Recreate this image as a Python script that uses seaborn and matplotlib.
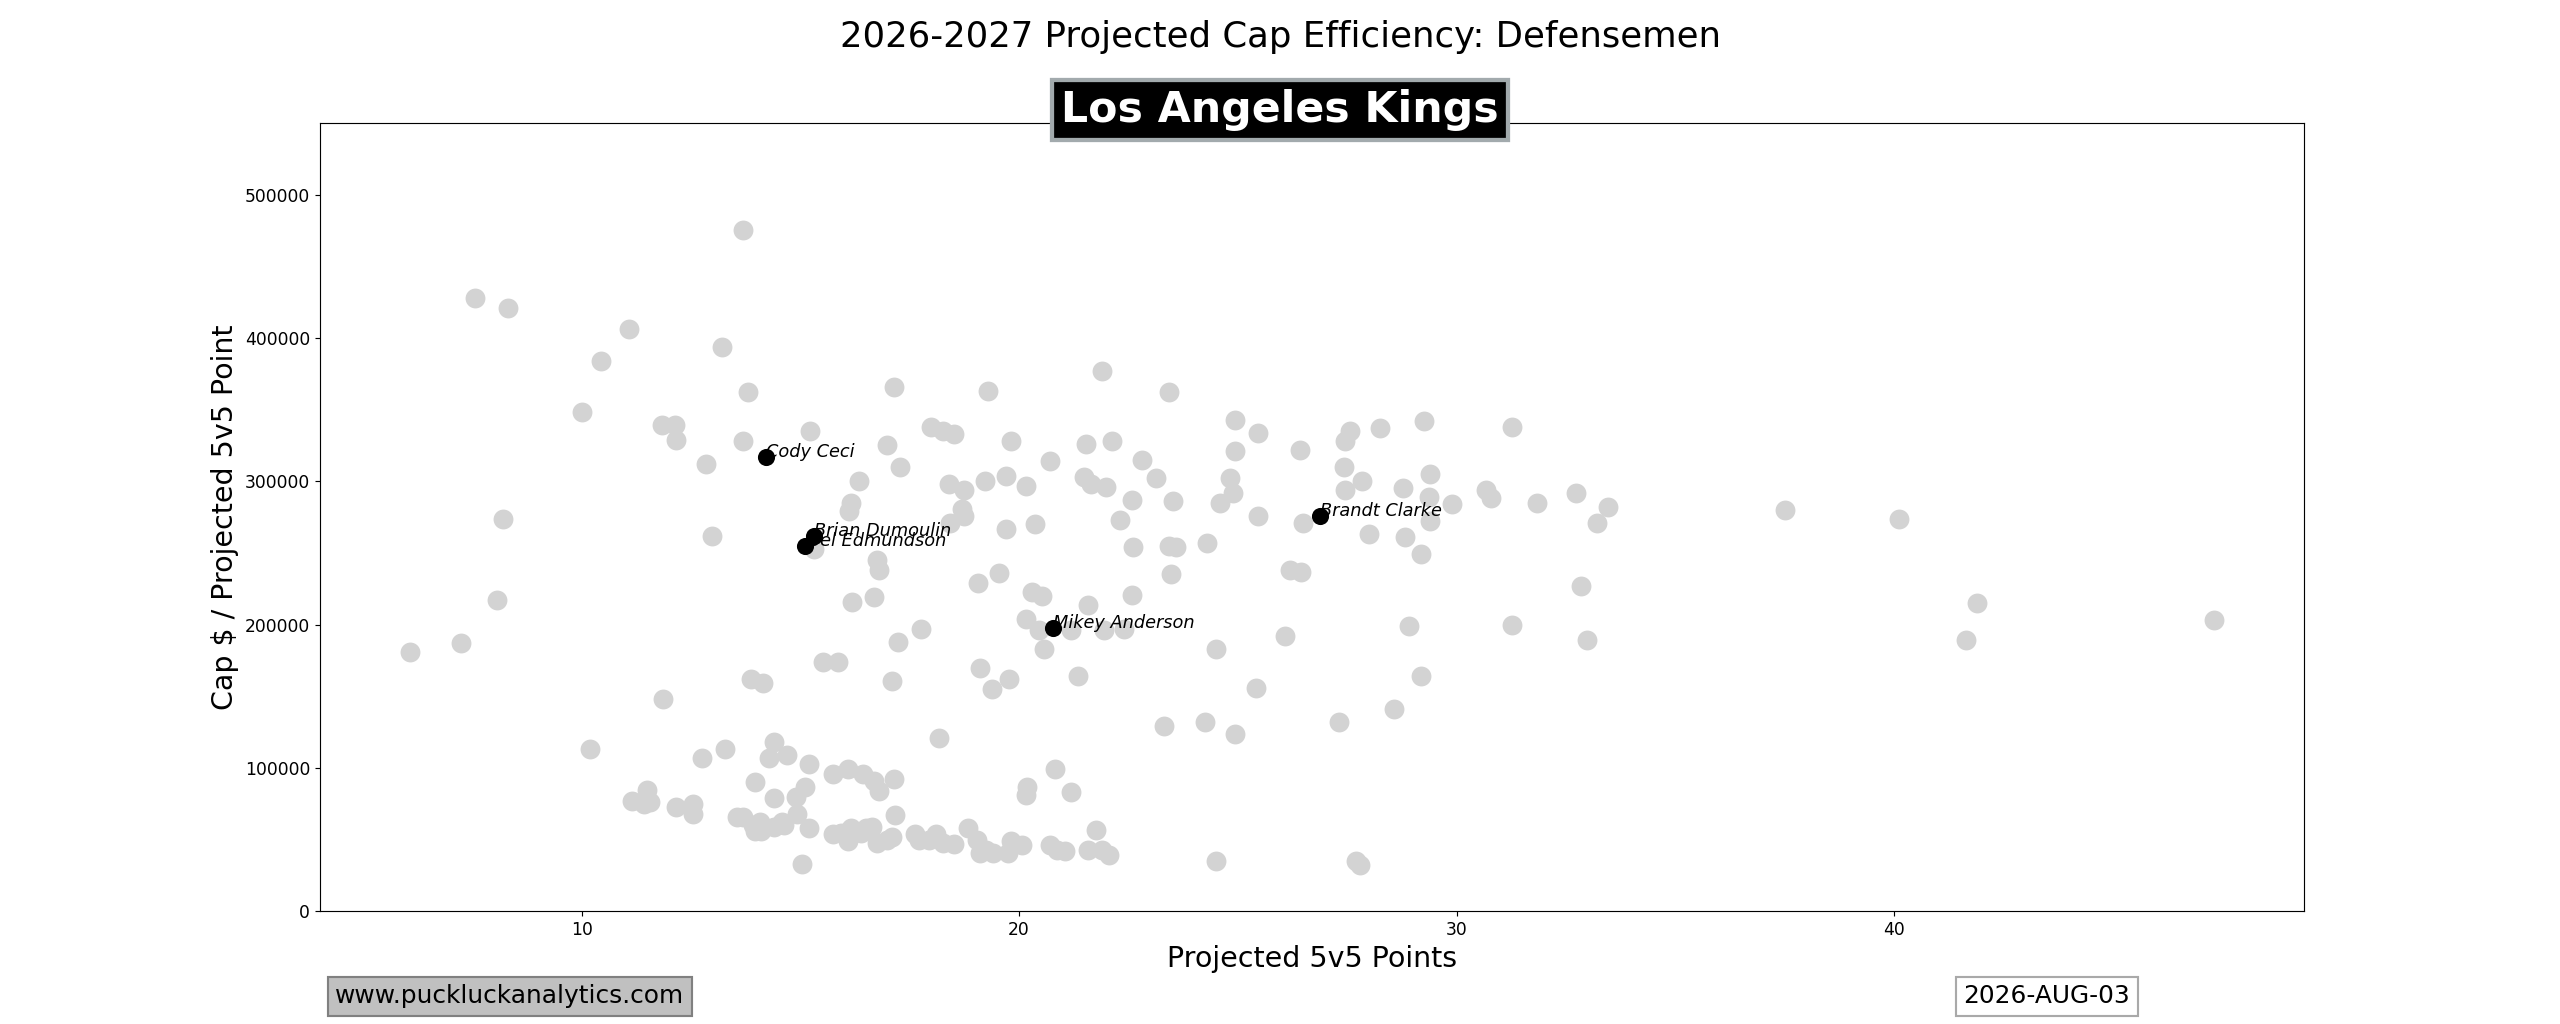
import matplotlib
matplotlib.use("Agg")
from matplotlib import pyplot as plt
import pandas as pd
import seaborn as sns

# league-wide defensemen (projected 5v5 points, cap $ per projected point)
league_points = [
    7.57, 8.32, 11.08, 10.45, 13.21, 13.69, 13.81, 10.00, 11.83, 12.13,
    12.16, 12.84, 13.69, 15.22, 8.21, 12.99, 8.06, 6.08, 7.24, 11.87,
    10.19, 17.13, 19.29, 21.90, 23.43, 16.98, 17.28, 17.99, 18.25, 18.51,
    19.81, 16.34, 18.40, 18.73, 19.22, 19.70, 20.15, 20.71, 21.53, 22.13,
    22.80, 21.49, 21.64, 21.98, 23.13, 16.16, 16.12, 18.43, 18.73, 18.69,
    19.70, 20.37, 22.30, 22.57, 23.51, 15.30, 16.75, 16.79, 22.61, 23.43,
    23.58, 24.29, 24.59, 24.81, 24.89, 24.93, 24.93, 25.45, 25.45, 26.42,
    23.47, 19.55, 19.07, 16.19, 16.68, 20.30, 20.52, 21.57, 22.57, 17.76,
    17.24, 20.15, 20.45, 21.19, 21.94, 22.39, 20.56, 24.51, 15.52, 15.86,
    19.10, 13.88, 14.14, 17.09, 19.78, 19.37, 21.34, 18.17, 23.32, 24.25,
    24.93, 25.41, 26.08, 26.19, 26.45, 26.49, 27.43, 27.46, 27.57, 27.46,
    27.84, 28.25, 29.25, 29.40, 28.77, 29.36, 29.40, 29.89, 27.99, 28.81,
    29.18, 30.67, 30.78, 31.27, 31.83, 32.72, 33.47, 33.21, 32.84, 32.99,
    31.27, 28.92, 29.18, 28.58, 27.31, 27.69, 27.80, 37.50, 40.11, 41.90,
    41.64, 47.31, 14.40, 13.28, 12.76, 14.29, 14.70, 15.19, 13.96, 14.40,
    14.89, 15.11, 11.49, 11.16, 11.42, 11.57, 12.16, 12.54, 12.54, 13.54,
    13.69, 13.92, 14.07, 13.96, 14.10, 14.40, 14.59, 14.63, 14.93, 15.19,
    15.04, 15.75, 16.08, 16.42, 16.68, 16.79, 17.13, 17.16, 15.75, 15.93,
    16.16, 16.08, 16.38, 16.49, 16.64, 16.75, 16.98, 17.09, 17.61, 17.72,
    17.95, 18.10, 18.25, 18.51, 18.84, 19.03, 19.10, 19.25, 19.40, 19.74,
    19.81, 20.07, 20.15, 20.19, 20.82, 21.19, 20.71, 20.86, 21.04, 21.57,
    21.75, 21.90, 22.05, 24.51,
]
league_cap_per_point = [
    428000, 421000, 406000, 384000, 394000, 475000, 362000, 348000, 339000, 339000,
    329000, 312000, 328000, 335000, 274000, 262000, 217000, 181000, 187000, 148000,
    113000, 366000, 363000, 377000, 362000, 325000, 310000, 338000, 335000, 333000,
    328000, 300000, 298000, 294000, 300000, 304000, 297000, 314000, 326000, 328000,
    315000, 303000, 298000, 296000, 302000, 285000, 279000, 271000, 276000, 281000,
    267000, 270000, 273000, 287000, 286000, 253000, 245000, 238000, 254000, 255000,
    254000, 257000, 285000, 302000, 292000, 321000, 343000, 334000, 276000, 322000,
    235000, 236000, 229000, 216000, 219000, 223000, 220000, 214000, 221000, 197000,
    188000, 204000, 196000, 196000, 196000, 197000, 183000, 183000, 174000, 174000,
    170000, 162000, 159000, 161000, 162000, 155000, 164000, 121000, 129000, 132000,
    124000, 156000, 192000, 238000, 237000, 271000, 310000, 328000, 335000, 294000,
    300000, 337000, 342000, 305000, 295000, 289000, 272000, 284000, 263000, 261000,
    249000, 294000, 288000, 338000, 285000, 292000, 282000, 271000, 227000, 189000,
    200000, 199000, 164000, 141000, 132000, 35000, 32000, 280000, 274000, 215000,
    189000, 203000, 118000, 113000, 107000, 107000, 109000, 103000, 90000, 79000,
    80000, 87000, 85000, 77000, 75000, 76000, 73000, 75000, 68000, 66000,
    66000, 60000, 62000, 56000, 56000, 59000, 62000, 60000, 68000, 58000,
    33000, 96000, 99000, 96000, 91000, 84000, 92000, 67000, 54000, 55000,
    58000, 49000, 55000, 58000, 59000, 48000, 50000, 52000, 54000, 50000,
    50000, 54000, 48000, 47000, 58000, 50000, 41000, 43000, 41000, 41000,
    49000, 46000, 81000, 87000, 99000, 83000, 46000, 43000, 42000, 43000,
    57000, 43000, 39000, 35000,
]

# Los Angeles Kings defensemen
team_players = ["Cody Ceci", "Brian Dumoulin", "Joel Edmundson", "Brandt Clarke", "Mikey Anderson"]
team_points = [14.22, 15.30, 15.11, 26.87, 20.78]
team_cap_per_point = [317000, 262000, 255000, 276000, 198000]

df_league = pd.DataFrame({"points": league_points, "cap": league_cap_per_point})
df_team = pd.DataFrame({"name": team_players, "points": team_points, "cap": team_cap_per_point})

fig, ax = plt.subplots(figsize=(25, 10), dpi=102.4)

sns.scatterplot(data=df_league, x="points", y="cap", color="lightgrey", s=195, linewidth=0, ax=ax)
for _, row in df_team.iterrows():
    ax.text(row["points"], row["cap"], row["name"], fontsize=12.5, style="italic")
sns.scatterplot(data=df_team, x="points", y="cap", color="black", s=145, linewidth=0, ax=ax, zorder=4)

ax.set_ylim(0, 550000)
ax.set_xlabel("Projected 5v5 Points", fontsize=20)
ax.set_ylabel("Cap $ / Projected 5v5 Point", fontsize=20)
ax.tick_params(labelsize=12)

fig.suptitle("2026-2027 Projected Cap Efficiency: Defensemen", fontsize=25)
fig.text(0.5, 0.8925, "Los Angeles Kings", ha="center", va="center", fontsize=30,
         fontweight="bold", color="white",
         bbox=dict(boxstyle="square,pad=0.22", facecolor="black", edgecolor="#A2AAAD", linewidth=3))
fig.text(0.131, 0.027, "www.puckluckanalytics.com", ha="left", va="center", fontsize=17.5,
         bbox=dict(boxstyle="square,pad=0.3", facecolor="silver", edgecolor="grey", linewidth=1.5))
fig.text(0.767, 0.027, "2026-AUG-03", ha="left", va="center", fontsize=17.5,
         bbox=dict(boxstyle="square,pad=0.3", facecolor="white", edgecolor="darkgrey", linewidth=1.5))

fig.savefig("out.png", dpi=102.4)
